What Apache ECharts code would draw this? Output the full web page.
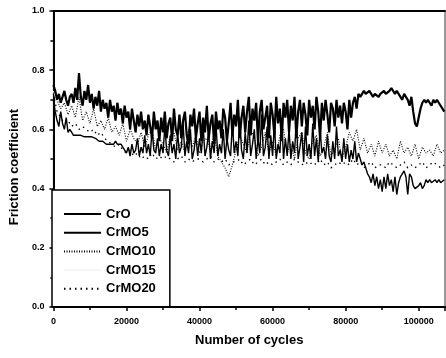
<!DOCTYPE html>
<html>
<head>
<meta charset="utf-8">
<script src="https://cdn.jsdelivr.net/npm/echarts@6/dist/echarts.min.js"></script>
<style>
  html, body { margin: 0; padding: 0; background: #fff; }
  #chart { width: 446px; height: 358px; }
</style>
</head>
<body>
<div id="chart"></div>
<script>
// friction coefficient: CrO / CrMO5 every 500 cycles, the others every 1000
const fineStep = 500;
const coarseStep = 1000;
const seriesNames = ['CrO', 'CrMO5', 'CrMO10', 'CrMO15', 'CrMO20'];
const yTicks = [0, 0.2, 0.4, 0.6, 0.8, 1.0];
const xTicks = [0, 20000, 40000, 60000, 80000, 100000];

const crO = [
  0.75, 0.73, 0.70, 0.72, 0.69, 0.71, 0.73, 0.70, 0.68, 0.71,
  0.72, 0.69, 0.74, 0.70, 0.79, 0.71, 0.68, 0.73, 0.70, 0.75,
  0.69, 0.72, 0.67, 0.71, 0.68, 0.73, 0.66, 0.70, 0.67, 0.69,
  0.64, 0.70, 0.66, 0.68, 0.63, 0.69, 0.65, 0.67, 0.62, 0.68,
  0.64, 0.66, 0.60, 0.67, 0.63, 0.59, 0.65, 0.61, 0.66, 0.60,
  0.63, 0.58, 0.65, 0.61, 0.57, 0.66, 0.60, 0.63, 0.56, 0.64,
  0.59, 0.66, 0.57, 0.62, 0.64, 0.56, 0.67, 0.60, 0.58, 0.65,
  0.57, 0.63, 0.66, 0.58, 0.55, 0.65, 0.61, 0.67, 0.57, 0.62,
  0.66, 0.56, 0.64, 0.59, 0.68, 0.57, 0.62, 0.65, 0.55, 0.66,
  0.60, 0.63, 0.57, 0.67, 0.64, 0.56, 0.62, 0.69, 0.58, 0.65,
  0.61, 0.70, 0.57, 0.64, 0.68, 0.59, 0.66, 0.71, 0.58, 0.67,
  0.63, 0.69, 0.56, 0.66, 0.70, 0.60, 0.64, 0.68, 0.57, 0.69,
  0.65, 0.58, 0.71, 0.62, 0.67, 0.56, 0.69, 0.64, 0.70, 0.59,
  0.68, 0.63, 0.71, 0.57, 0.66, 0.70, 0.61, 0.69, 0.65, 0.58,
  0.70, 0.64, 0.68, 0.60, 0.71, 0.66, 0.57, 0.69, 0.63, 0.70,
  0.65, 0.59, 0.69, 0.67, 0.61, 0.70, 0.64, 0.68, 0.62, 0.69,
  0.66, 0.60, 0.70, 0.64, 0.69, 0.71, 0.67, 0.72, 0.71, 0.72,
  0.73, 0.72, 0.72, 0.73, 0.72, 0.71, 0.72, 0.72, 0.71, 0.72,
  0.72, 0.73, 0.72, 0.72, 0.73, 0.74, 0.73, 0.72, 0.73, 0.72,
  0.71, 0.70, 0.72, 0.71, 0.70, 0.68, 0.71, 0.66, 0.62, 0.61,
  0.64, 0.67, 0.69, 0.70, 0.69, 0.70, 0.69, 0.68, 0.70, 0.69,
  0.70, 0.69, 0.68, 0.67, 0.66
];
const crMO5 = [
  0.70, 0.66, 0.63, 0.61, 0.66, 0.62, 0.60, 0.64, 0.59, 0.60,
  0.59, 0.58, 0.585, 0.58, 0.575, 0.58, 0.58, 0.575, 0.58, 0.575,
  0.58, 0.575, 0.58, 0.57, 0.575, 0.56, 0.555, 0.56, 0.555, 0.55,
  0.555, 0.55, 0.555, 0.55, 0.56, 0.55, 0.545, 0.55, 0.54, 0.53,
  0.52, 0.54, 0.51, 0.55, 0.52, 0.53, 0.57, 0.51, 0.54, 0.52,
  0.58, 0.52, 0.55, 0.51, 0.60, 0.53, 0.52, 0.57, 0.51, 0.55,
  0.52, 0.61, 0.53, 0.51, 0.58, 0.52, 0.55, 0.50, 0.59, 0.52,
  0.54, 0.62, 0.51, 0.56, 0.52, 0.60, 0.50, 0.53, 0.58, 0.51,
  0.57, 0.52, 0.61, 0.51, 0.54, 0.59, 0.50, 0.56, 0.52, 0.62,
  0.51, 0.55, 0.52, 0.60, 0.50, 0.57, 0.53, 0.51, 0.62, 0.52,
  0.56, 0.51, 0.64, 0.53, 0.50, 0.59, 0.52, 0.63, 0.51, 0.55,
  0.60, 0.50, 0.57, 0.52, 0.65, 0.51, 0.54, 0.61, 0.50, 0.58,
  0.51, 0.62, 0.50, 0.55, 0.52, 0.64, 0.50, 0.57, 0.51, 0.60,
  0.50, 0.56, 0.52, 0.63, 0.50, 0.54, 0.59, 0.49, 0.61, 0.51,
  0.55, 0.50, 0.62, 0.51, 0.57, 0.49, 0.60, 0.52, 0.54, 0.50,
  0.58, 0.51, 0.49, 0.56, 0.50, 0.61, 0.51, 0.53, 0.49, 0.57,
  0.50, 0.55, 0.49, 0.53, 0.50, 0.56, 0.49, 0.52, 0.50, 0.48,
  0.49, 0.47, 0.45, 0.44, 0.42, 0.45, 0.41, 0.44, 0.40, 0.43,
  0.39, 0.44, 0.40, 0.45, 0.41, 0.43, 0.39, 0.44, 0.38, 0.42,
  0.44, 0.45, 0.46, 0.44, 0.38, 0.45, 0.44, 0.41, 0.40, 0.40,
  0.41, 0.42, 0.40, 0.41, 0.43, 0.42, 0.43, 0.42, 0.42, 0.43,
  0.42, 0.43, 0.42, 0.42, 0.43
];
const crMO10 = [
  0.76, 0.70, 0.67, 0.69, 0.65, 0.68, 0.64, 0.71, 0.63, 0.66,
  0.62, 0.67, 0.61, 0.63, 0.60, 0.64, 0.59, 0.61, 0.58, 0.62,
  0.56, 0.60, 0.57, 0.55, 0.59, 0.54, 0.58, 0.60, 0.53, 0.57,
  0.55, 0.52, 0.58, 0.59, 0.53, 0.56, 0.52, 0.60, 0.54, 0.58,
  0.52, 0.56, 0.57, 0.53, 0.59, 0.51, 0.49, 0.47, 0.44, 0.48,
  0.53, 0.58, 0.55, 0.52, 0.60, 0.57, 0.51, 0.54, 0.59, 0.52,
  0.56, 0.51, 0.58, 0.60, 0.52, 0.55, 0.50, 0.57, 0.59, 0.52,
  0.50, 0.56, 0.58, 0.51, 0.54, 0.59, 0.51, 0.53, 0.57, 0.50,
  0.54, 0.59, 0.56, 0.60, 0.53, 0.57, 0.52, 0.55, 0.51, 0.56,
  0.52, 0.55, 0.51, 0.53, 0.50, 0.56, 0.52, 0.54, 0.51, 0.55,
  0.50, 0.54, 0.52, 0.53, 0.51, 0.55, 0.52, 0.53
];
const crMO15 = [
  0.73, 0.69, 0.67, 0.66, 0.65, 0.64, 0.65, 0.63, 0.64, 0.62,
  0.63, 0.61, 0.62, 0.60, 0.61, 0.59, 0.60, 0.58, 0.59, 0.57,
  0.58, 0.56, 0.57, 0.55, 0.56, 0.55, 0.56, 0.54, 0.55, 0.54,
  0.55, 0.53, 0.54, 0.55, 0.53, 0.54, 0.53, 0.55, 0.54, 0.53,
  0.54, 0.53, 0.55, 0.54, 0.53, 0.54, 0.52, 0.53, 0.54, 0.52,
  0.53, 0.54, 0.52, 0.53, 0.54, 0.52, 0.53, 0.52, 0.54, 0.53,
  0.52, 0.53, 0.54, 0.52, 0.53, 0.52, 0.54, 0.53, 0.52, 0.53,
  0.52, 0.54, 0.53, 0.52, 0.53, 0.54, 0.52, 0.53, 0.52, 0.54,
  0.53, 0.52, 0.53, 0.54, 0.52, 0.53, 0.52, 0.51, 0.53, 0.52,
  0.51, 0.52, 0.53, 0.51, 0.52, 0.51, 0.53, 0.52, 0.51, 0.52,
  0.51, 0.52, 0.51, 0.52, 0.53, 0.51, 0.52, 0.51
];
const crMO20 = [
  0.72, 0.66, 0.64, 0.62, 0.63, 0.61, 0.62, 0.60, 0.61, 0.60,
  0.59, 0.60, 0.58, 0.59, 0.57, 0.56, 0.55, 0.54, 0.55, 0.53,
  0.52, 0.53, 0.51, 0.52, 0.50, 0.51, 0.50, 0.52, 0.50, 0.51,
  0.50, 0.51, 0.50, 0.49, 0.50, 0.51, 0.49, 0.50, 0.49, 0.50,
  0.50, 0.49, 0.50, 0.51, 0.49, 0.50, 0.49, 0.50, 0.48, 0.49,
  0.49, 0.50, 0.48, 0.49, 0.50, 0.48, 0.49, 0.50, 0.48, 0.49,
  0.48, 0.49, 0.50, 0.48, 0.49, 0.48, 0.50, 0.49, 0.48, 0.49,
  0.48, 0.49, 0.48, 0.50, 0.48, 0.49, 0.47, 0.48, 0.49, 0.48,
  0.49, 0.48, 0.50, 0.48, 0.49, 0.47, 0.48, 0.49, 0.47, 0.48,
  0.48, 0.47, 0.49, 0.48, 0.47, 0.48, 0.49, 0.47, 0.48, 0.47,
  0.48, 0.49, 0.47, 0.48, 0.49, 0.48, 0.47, 0.48
];

const toPairs = (arr, step) => arr.map((v, i) => [i * step, v]);
const font = '"Liberation Sans", Arial, sans-serif';
const xMax = 107200;

const chart = echarts.init(document.getElementById('chart'));
const option = {
  animation: false,
  backgroundColor: '#fff',
  grid: {
    left: 52, right: 1, top: 11, bottom: 51,
    show: true, borderColor: '#333', borderWidth: 1
  },
  legend: {
    data: seriesNames,
    orient: 'vertical',
    left: 52, top: 190,
    padding: [17, 14, 11, 11],
    itemWidth: 37, itemHeight: 14, itemGap: 4.7,
    backgroundColor: '#fff',
    borderColor: '#000', borderWidth: 1.5,
    itemStyle: { opacity: 0 },
    textStyle: { fontFamily: font, fontWeight: 'bold', fontSize: 13, lineHeight: 14, color: '#000' }
  },
  xAxis: [
    {
      type: 'value', min: 0, max: xMax, interval: 20000,
      name: 'Number of cycles', nameLocation: 'middle', nameGap: 27,
      nameTextStyle: { fontFamily: font, fontWeight: 'bold', fontSize: 13, color: '#000' },
      axisLine: { lineStyle: { color: '#000', width: 2 } },
      axisTick: { inside: false, length: 4, lineStyle: { width: 1.5, color: '#000' } },
      minorTick: { show: true, splitNumber: 2, length: 3, lineStyle: { width: 1.5, color: '#000' } },
      axisLabel: {
        margin: 10, fontFamily: font, fontWeight: 'bold', fontSize: 9, color: '#000',
        showMaxLabel: false,
        formatter: (v) => (xTicks.indexOf(v) >= 0 ? String(v) : '')
      },
      splitLine: { show: false }
    },
    {
      type: 'value', min: 0, max: xMax, position: 'top',
      axisLine: { lineStyle: { color: '#000', width: 2 } },
      axisTick: { show: false }, axisLabel: { show: false }, splitLine: { show: false }
    }
  ],
  yAxis: {
    type: 'value', min: 0, max: 1, interval: 0.2,
    name: 'Friction coefficient', nameLocation: 'middle', nameGap: 32,
    nameTextStyle: { fontFamily: font, fontWeight: 'bold', fontSize: 13, color: '#000', padding: [0, 16, 0, 0] },
    axisLine: { show: true, lineStyle: { color: '#000', width: 2 } },
    axisTick: { show: true, inside: false, length: 4, lineStyle: { width: 1.5, color: '#000' } },
    minorTick: { show: true, splitNumber: 2, length: 3, lineStyle: { width: 1.5, color: '#000' } },
    axisLabel: {
      margin: 9, fontFamily: font, fontWeight: 'bold', fontSize: 9, color: '#000',
      formatter: (v) => (yTicks.some((t) => Math.abs(t - v) < 1e-6) ? v.toFixed(1) : '')
    },
    splitLine: { show: false }
  },
  series: [
    { name: 'CrMO15', type: 'line', symbol: 'none', data: toPairs(crMO15, coarseStep),
      lineStyle: { color: '#f6f6f6', width: 1 }, itemStyle: { color: '#f6f6f6' } },
    { name: 'CrMO20', type: 'line', symbol: 'none', data: toPairs(crMO20, coarseStep),
      lineStyle: { color: '#000', width: 1.3, type: [1.5, 4] }, itemStyle: { color: '#000' } },
    { name: 'CrMO10', type: 'line', symbol: 'none', data: toPairs(crMO10, coarseStep),
      lineStyle: { color: '#000', width: 1.1, type: [1, 1.5] }, itemStyle: { color: '#000' } },
    { name: 'CrMO5', type: 'line', symbol: 'none', data: toPairs(crMO5, fineStep),
      lineStyle: { color: '#000', width: 1.4 }, itemStyle: { color: '#000' } },
    { name: 'CrO', type: 'line', symbol: 'none', data: toPairs(crO, fineStep),
      lineStyle: { color: '#000', width: 2.2 }, itemStyle: { color: '#000' } }
  ]
};
chart.setOption(option);
</script>
</body>
</html>
